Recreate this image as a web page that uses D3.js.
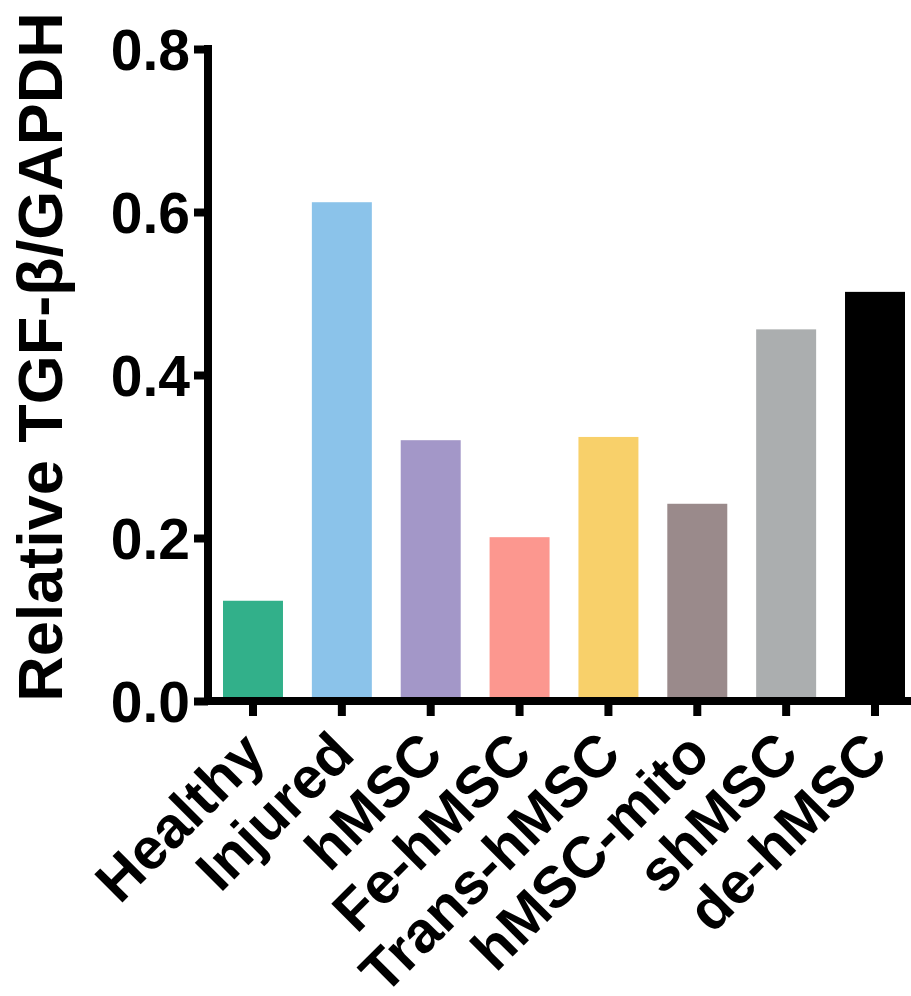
<!DOCTYPE html>
<html>
<head>
<meta charset="utf-8">
<title>TGF-beta bar chart</title>
<script src="https://d3js.org/d3.v7.min.js"></script>
<style>
  body { margin: 0; background: #fff; }
  text { font-family: "Liberation Sans", Arial, Helvetica, sans-serif; font-weight: bold; fill: #000; }
</style>
</head>
<body>
<div id="chart"></div>
<script>
// data
const groups = ["Healthy", "Injured", "hMSC", "Fe-hMSC", "Trans-hMSC", "hMSC-mito", "shMSC", "de-hMSC"];
const values = [0.123, 0.612, 0.320, 0.201, 0.324, 0.242, 0.456, 0.502];
const colors = ["#32b08a", "#8bc3ea", "#a397c8", "#fc978f", "#f8d06a", "#9a8a8b", "#abaeaf", "#000000"];
const yTicks = [0, 0.2, 0.4, 0.6, 0.8];
const yLabel = "Relative TGF-\u03b2/GAPDH";

const width = 911, height = 996;

const svg = d3.select("#chart")
    .append("svg")
    .attr("width", width)
    .attr("height", height);

const y = d3.scaleLinear().domain([0, 0.8]).range([701, 49]);
const x = d3.scaleBand().domain(groups).range([223, 905]).paddingInner(0.325).paddingOuter(0);

// bars
svg.selectAll("rect.bar")
    .data(groups)
    .join("rect")
    .attr("class", "bar")
    .attr("x", d => x(d))
    .attr("width", x.bandwidth())
    .attr("y", (d, i) => y(values[i]))
    .attr("height", (d, i) => y(0) - y(values[i]))
    .attr("fill", (d, i) => colors[i]);

// y axis
const yAxis = svg.append("g")
    .attr("transform", "translate(208,0)")
    .call(d3.axisLeft(y).tickValues(yTicks).tickFormat(d3.format(".1f")).tickSize(14).tickPadding(4));
yAxis.select(".domain").attr("d", `M0,${y(0.8) - 4}V${y(0) + 4}`).attr("stroke-width", 8);
yAxis.selectAll(".tick line").attr("stroke-width", 8);
yAxis.selectAll(".tick text").style("font-size", "57px").attr("dy", "0.36em");

// x axis
const xAxis = svg.append("g")
    .attr("transform", `translate(0,${y(0)})`)
    .call(d3.axisBottom(x).tickSize(15).tickFormat(""));
xAxis.select(".domain").attr("d", `M204,0H${width}`).attr("stroke-width", 8);
xAxis.selectAll(".tick line").attr("stroke-width", 8);

// rotated category labels
svg.selectAll("text.xlab")
    .data(groups)
    .join("text")
    .attr("class", "xlab")
    .attr("text-anchor", "end")
    .attr("transform", d => `translate(${x(d) + x.bandwidth() / 2 + 15},757) rotate(-45)`)
    .style("font-size", "58px")
    .text(d => d);

// y title
svg.append("text")
    .attr("text-anchor", "middle")
    .attr("transform", "translate(62,357) rotate(-90)")
    .style("font-size", "63px")
    .text(yLabel);
</script>
</body>
</html>
